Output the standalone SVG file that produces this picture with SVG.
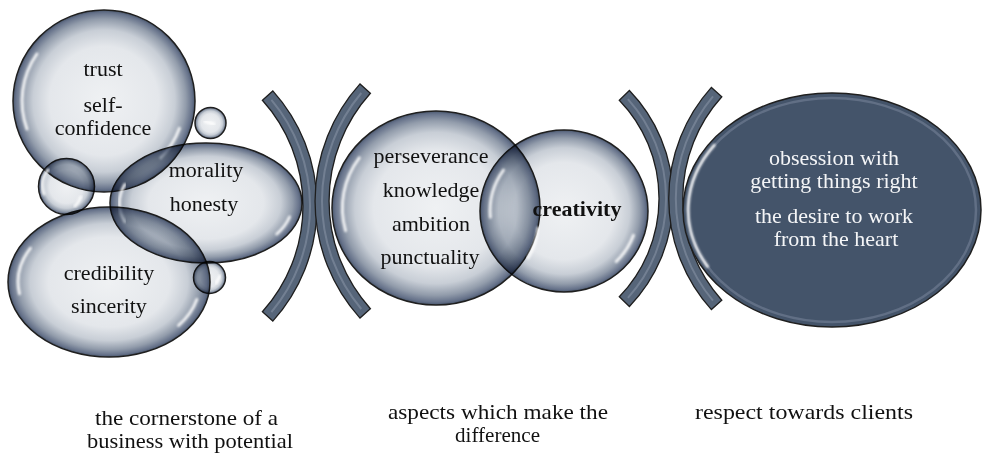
<svg xmlns="http://www.w3.org/2000/svg" width="982" height="455" viewBox="0 0 982 455">
<defs>
<radialGradient id="bubG" cx="0.5" cy="0.5" r="0.5">
<stop offset="0" stop-color="#eff1f3"/>
<stop offset="0.6" stop-color="#e4e7eb"/>
<stop offset="0.78" stop-color="#c8ced6"/>
<stop offset="0.9" stop-color="#929cab"/>
<stop offset="0.97" stop-color="#66728a"/>
<stop offset="1" stop-color="#48566c"/>
</radialGradient>
<filter id="soft" x="-20%" y="-20%" width="140%" height="140%">
<feGaussianBlur stdDeviation="0.8"/>
</filter>
<style>
.bub{fill:url(#bubG);stroke:#1f1f1f;stroke-width:1.5;mix-blend-mode:multiply}
.hl{fill:none;stroke:#ffffff;stroke-width:3;stroke-linecap:round;opacity:.85;filter:url(#soft)}
.t{font-family:"Liberation Serif","Times New Roman",serif;font-size:22px;fill:#111;text-anchor:middle}
.lab{font-family:"Liberation Serif","Times New Roman",serif;font-size:21px;fill:#111;text-anchor:middle}
.w{fill:#f4f5f7}
.br{fill:#566579;stroke:#1e1e1e;stroke-width:1.3}
.brl{fill:none;stroke:#8591a3;stroke-width:2;opacity:.6}
</style>
</defs>
<rect width="982" height="455" fill="#ffffff"/>

<g id="separators">
<path class="br" d="M 272.8 90.9 A 172 172 0 0 1 272.8 321.1 L 262.4 311.7 A 158 158 0 0 0 262.4 100.3 Z"/>
<path class="brl" d="M 271.4 99.9 A 165 165 0 0 1 271.4 312.1"/>
<path class="br" d="M 360 83.9 A 175 175 0 0 0 360 318.1 L 370.4 308.7 A 161 161 0 0 1 370.4 93.3 Z"/>
<path class="brl" d="M 361.3 93 A 168 168 0 0 0 361.3 309"/>
<path class="br" d="M 629.4 90.5 A 155.5 155.5 0 0 1 629.4 306.5 L 619.3 296.8 A 141.5 141.5 0 0 0 619.3 100.2 Z"/>
<path class="brl" d="M 627.9 99.1 A 148.5 148.5 0 0 1 627.9 297.9"/>
<path class="br" d="M 711.4 87.4 A 166 166 0 0 0 711.4 309.6 L 721.8 300.2 A 152 152 0 0 1 721.8 96.8 Z"/>
<path class="brl" d="M 713 96.3 A 159 159 0 0 0 713 300.7"/>
</g>

<g id="node-trust">
<circle class="bub" cx="104" cy="101" r="91"/>
<path class="hl" d="M 36.9 54 A 81.9 81.9 0 0 0 27 129"/>
<path class="hl" d="M 179.3 128.4 A 80.1 80.1 0 0 1 160.6 157.6"/>
</g>
<g id="node-small-top">
<circle class="bub" cx="210.5" cy="123" r="15.5"/>
<path class="hl" d="M 205 121.5 L 214 124" stroke-width="2"/>
</g>
<g id="node-small-left">
<circle class="bub" cx="66.5" cy="186.5" r="28"/>
<path class="hl" d="M 48 170 A 25 25 0 0 0 44 194"/>
<path class="hl" d="M 81 197 A 25 25 0 0 1 75 206"/>
</g>
<g id="node-morality">
<ellipse class="bub" cx="206" cy="203" rx="96" ry="60"/>
<path class="hl" d="M 124.8 184.5 A 86.4 54 0 0 0 124.8 221.5"/>
<path class="hl" d="M 289.5 217 A 86.4 54 0 0 1 276.8 234"/>
</g>
<g id="node-credibility">
<ellipse class="bub" cx="109" cy="282" rx="101" ry="75"/>
<path class="hl" d="M 30.3 248.3 A 90.9 67.5 0 0 0 19.5 293.7"/>
<path class="hl" d="M 196.8 299.5 A 90.9 67.5 0 0 1 178.6 325.4"/>
</g>
<g id="node-small-bottom">
<circle class="bub" cx="209.5" cy="277.5" r="16"/>
<path class="hl" d="M 216 283 L 220 276" stroke-width="2"/>
</g>
<g id="node-middle">
<ellipse class="bub" cx="436" cy="208" rx="104" ry="97"/>
<path class="hl" d="M 359.3 157.9 A 93.6 87.3 0 0 0 345.6 230.6"/>
</g>
<g id="node-creativity">
<ellipse class="bub" cx="564" cy="211" rx="84" ry="81"/>
<path class="hl" d="M 503.5 170.1 A 73.9 71.3 0 0 0 490.4 217.2"/>
<path class="hl" d="M 633.4 235.4 A 73.9 71.3 0 0 1 616.3 261.4"/>
<path class="hl" d="M 538 228 A 70 70 0 0 1 528 258"/>
</g>
<g id="node-respect">
<ellipse cx="832" cy="210" rx="149" ry="117" fill="#44546a" stroke="#1f1f1f" stroke-width="1.5"/>
<ellipse cx="832" cy="210" rx="144" ry="112" fill="none" stroke="#7d8aa0" stroke-width="2.5" opacity="0.5"/>
<path class="hl" d="M 714.2 145.2 A 143.8 112.9 0 0 0 707.5 266.5" opacity="0.7"/>
</g>

<g id="texts">
<text class="t" x="103" y="76">trust</text>
<text class="t" x="103" y="112">self-</text>
<text class="t" x="103" y="135">confidence</text>
<text class="t" x="206" y="177">morality</text>
<text class="t" x="204" y="211">honesty</text>
<text class="t" x="109" y="280">credibility</text>
<text class="t" x="109" y="313">sincerity</text>
<text class="t" x="431" y="163">perseverance</text>
<text class="t" x="431" y="197">knowledge</text>
<text class="t" x="431" y="231">ambition</text>
<text class="t" x="430" y="264">punctuality</text>
<text class="t" x="577" y="216" font-weight="bold">creativity</text>
<text class="t w" x="834" y="165">obsession with</text>
<text class="t w" x="834" y="188">getting things right</text>
<text class="t w" x="834" y="223">the desire to work</text>
<text class="t w" x="836" y="246">from the heart</text>
</g>

<g id="labels">
<text class="lab" x="186.5" y="425" textLength="183" lengthAdjust="spacingAndGlyphs">the cornerstone of a</text>
<text class="lab" x="190" y="448" textLength="206" lengthAdjust="spacingAndGlyphs">business with potential</text>
<text class="lab" x="498" y="419" textLength="220" lengthAdjust="spacingAndGlyphs">aspects which make the</text>
<text class="lab" x="497.5" y="442" textLength="85" lengthAdjust="spacingAndGlyphs">difference</text>
<text class="lab" x="804" y="419" textLength="218" lengthAdjust="spacingAndGlyphs">respect towards clients</text>
</g>
</svg>
